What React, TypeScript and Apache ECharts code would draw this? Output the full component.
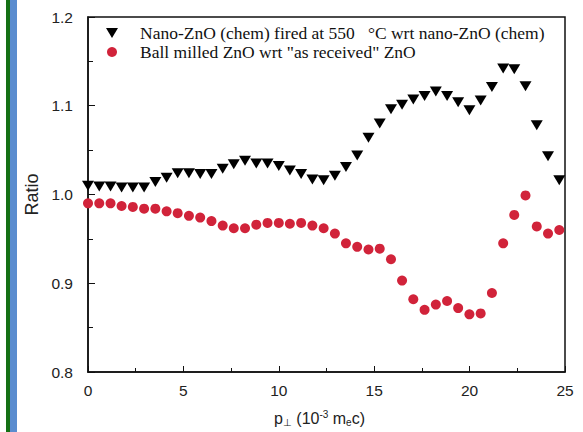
import React, { useEffect, useRef } from "react";
import * as echarts from "echarts";

const pValues = [
  0, 0.59, 1.18, 1.76, 2.35, 2.94, 3.53, 4.12, 4.7, 5.29, 5.88, 6.47, 7.06, 7.64, 8.23,
  8.82, 9.41, 10.0, 10.58, 11.17, 11.76, 12.35, 12.94, 13.52, 14.11, 14.7, 15.29, 15.88,
  16.46, 17.05, 17.64, 18.23, 18.82, 19.4, 19.99, 20.58, 21.17, 21.76, 22.34, 22.93,
  23.52, 24.11, 24.7, 25.28,
];

const nanoFired = [
  1.01, 1.009, 1.009, 1.008, 1.008, 1.008, 1.014, 1.019, 1.024, 1.024, 1.023, 1.023, 1.029,
  1.034, 1.038, 1.035, 1.035, 1.032, 1.027, 1.023, 1.017, 1.016, 1.021, 1.031, 1.044, 1.064,
  1.08, 1.096, 1.101, 1.107, 1.111, 1.116, 1.111, 1.104, 1.095, 1.106, 1.121, 1.142, 1.141,
  1.122, 1.078, 1.043, 1.016, 1.005,
];

const ballMilled = [
  0.99, 0.99, 0.99, 0.987, 0.986, 0.984, 0.984, 0.981, 0.979, 0.976, 0.974, 0.97, 0.965,
  0.962, 0.962, 0.966, 0.968, 0.968, 0.967, 0.968, 0.965, 0.962, 0.956, 0.945, 0.941, 0.938,
  0.939, 0.927, 0.903, 0.882, 0.87, 0.876, 0.88, 0.872, 0.865, 0.866, 0.889, 0.945, 0.977,
  0.999, 0.964, 0.956, 0.96, 0.951,
];

const seriesNames = [
  "Nano-ZnO (chem) fired at 550\u00a0\u00a0\u00a0°C wrt nano-ZnO (chem)",
  'Ball milled ZnO wrt "as received" ZnO',
];

const yTickLabels = ["0.8", "0.9", "1.0", "1.1", "1.2"];

export default function App() {
  const ref = useRef<HTMLDivElement>(null);
  useEffect(() => {
    if (!ref.current) return;
    const chart = echarts.init(ref.current, null, { renderer: "svg" });
    const axisColor = "#111";
    chart.setOption({
      animation: false,
      backgroundColor: "#fff",
      graphic: [
        { type: "rect", shape: { x: 6, y: 0, width: 4, height: 432 }, style: { fill: "#157015" } },
        { type: "rect", shape: { x: 10, y: 0, width: 7, height: 432 }, style: { fill: "#5a8ccf" } },
      ],
      grid: {
        left: 88,
        right: 18,
        top: 17,
        bottom: 57,
        show: true,
        borderColor: axisColor,
        borderWidth: 1.5,
        backgroundColor: "transparent",
      },
      legend: {
        orient: "vertical",
        left: 101,
        top: 19,
        itemWidth: 46,
        itemHeight: 10,
        itemGap: 1,
        textStyle: { fontFamily: "Liberation Serif", fontSize: 17.5, color: "#111" },
        data: [
          { name: seriesNames[0], icon: "path://M0,0L12,0L6,10Z" },
          { name: seriesNames[1], icon: "circle" },
        ],
      },
      xAxis: {
        type: "value",
        min: 0,
        max: 25,
        interval: 5,
        name: "{a|p}{s|⊥}{a| (10}{u|-3}{a| m}{s|e}{a|c)}",
        nameLocation: "middle",
        nameGap: 37,
        nameTextStyle: {
          padding: [0, 14, 0, 0],
          rich: {
            a: { fontFamily: "Liberation Sans", fontSize: 16, color: "#222" },
            s: { fontFamily: "Liberation Sans", fontSize: 10, color: "#222", padding: [8, 0, 0, 0] },
            u: { fontFamily: "Liberation Sans", fontSize: 10, color: "#222", padding: [0, 0, 8, 0] },
          },
        },
        axisLine: { lineStyle: { color: axisColor, width: 1.5 } },
        axisTick: { inside: true, length: 6, lineStyle: { color: axisColor } },
        minorTick: { show: true, splitNumber: 2, length: 4, lineStyle: { color: axisColor } },
        splitLine: { show: false },
        axisLabel: { fontFamily: "Liberation Sans", fontSize: 15.5, color: "#222", margin: 10 },
      },
      yAxis: {
        type: "value",
        min: 0.8,
        max: 1.2,
        interval: 0.1,
        name: "Ratio",
        nameLocation: "middle",
        nameGap: 45,
        nameTextStyle: { fontFamily: "Liberation Sans", fontSize: 18, color: "#222" },
        axisLine: { show: true, lineStyle: { color: axisColor, width: 1.5 } },
        axisTick: { inside: true, length: 7, lineStyle: { color: axisColor } },
        minorTick: { show: true, splitNumber: 2, length: 5, lineStyle: { color: axisColor } },
        splitLine: { show: false },
        axisLabel: {
          fontFamily: "Liberation Sans",
          fontSize: 15.5,
          color: "#222",
          margin: 15,
          formatter: (v: number) => {
            const i = Math.round((v - 0.8) / 0.1);
            return yTickLabels[i] ?? v.toFixed(1);
          },
        },
      },
      series: [
        {
          name: seriesNames[0],
          type: "scatter",
          symbol: "path://M0,0L12,0L6,10Z",
          symbolSize: [12, 10],
          itemStyle: { color: "#000", opacity: 1 },
          data: pValues.map((x, i) => [x, nanoFired[i]]),
        },
        {
          name: seriesNames[1],
          type: "scatter",
          symbol: "circle",
          symbolSize: 10,
          itemStyle: { color: "#d1233a", opacity: 1 },
          data: pValues.map((x, i) => [x, ballMilled[i]]),
        },
      ],
    });
    return () => chart.dispose();
  }, []);
  return (
    <div
      ref={ref}
      style={{ position: "fixed", left: 0, top: 0, width: 583, height: 432 }}
    />
  );
}
